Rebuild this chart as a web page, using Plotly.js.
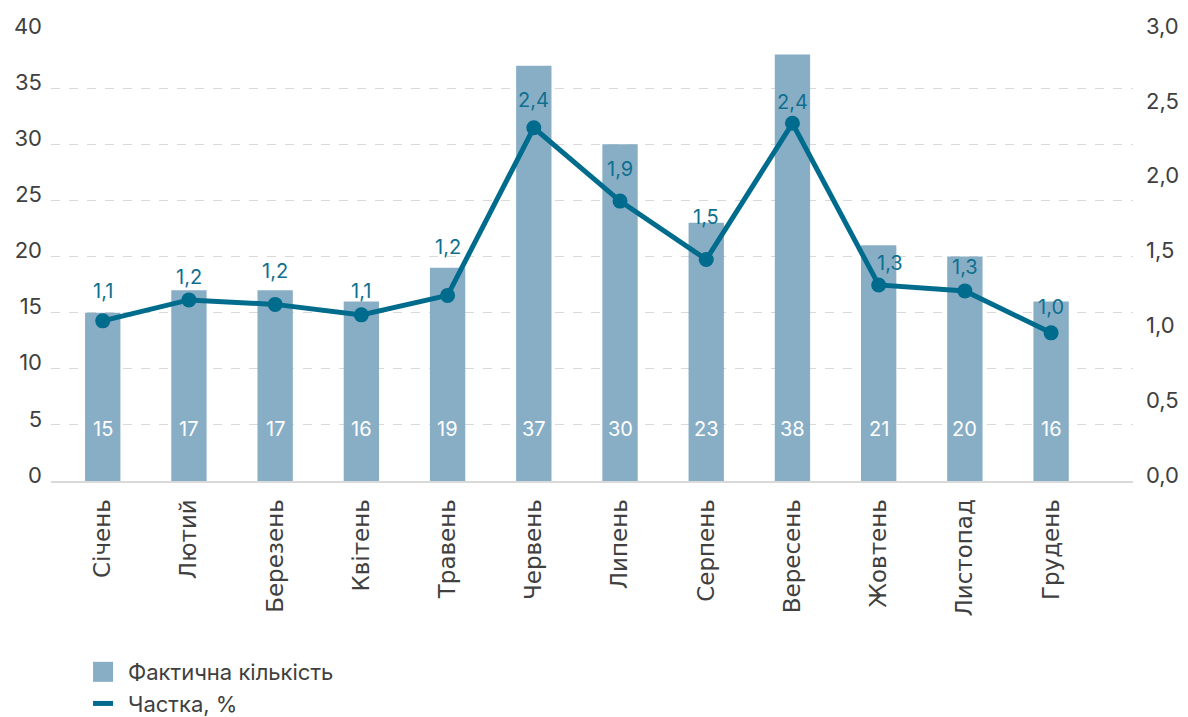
<!DOCTYPE html>
<html>
<head>
<meta charset="utf-8">
<script src="https://cdn.plot.ly/plotly-3.0.1.min.js"></script>
<style>
  html, body { margin: 0; padding: 0; background: #ffffff; }
  #chart { width: 1188px; height: 717px; }
</style>
</head>
<body>
<div id="chart"></div>
<script>
// Months of the year
const months = ['Січень', 'Лютий', 'Березень', 'Квітень', 'Травень', 'Червень',
                'Липень', 'Серпень', 'Вересень', 'Жовтень', 'Листопад', 'Грудень'];

// Actual count per month (left axis)
const actualCount = [15, 17, 17, 16, 19, 37, 30, 23, 38, 21, 20, 16];

// Share, % per month (right axis)
const sharePct = [1.07, 1.21, 1.18, 1.11, 1.24, 2.36, 1.87, 1.48, 2.39, 1.31, 1.27, 0.99];

// Series names
const barName = 'Фактична кількість';
const lineName = 'Частка, %';

// Label lift above each share point, in pixels
const labelLift = [30, 23, 33, 24, 48, 28, 32, 42, 21, 22, 24, 26];
const labelSlide = [0, 0, 0, 0, 0, 0, 0, 0, 0, 11, 0, 0];

const barColor = '#88aec6';
const lineColor = '#006c8d';
const textGrey = '#404040';
const numFont = 'Inter, "Open Sans", sans-serif';

const fmt = v => v.toFixed(1).replace('.', ',');

const bars = {
  type: 'bar',
  name: barName,
  x: months,
  y: actualCount,
  width: 0.41,
  marker: { color: barColor },
  hoverinfo: 'x+y'
};

const shareLine = {
  type: 'scatter',
  mode: 'lines',
  name: lineName,
  x: months,
  y: sharePct,
  yaxis: 'y2',
  line: { color: lineColor, width: 5 },
  hoverinfo: 'skip'
};

const sharePoints = {
  type: 'scatter',
  mode: 'markers',
  name: lineName,
  x: months,
  y: sharePct,
  yaxis: 'y2',
  showlegend: false,
  marker: { color: lineColor, size: 15 },
  hoverinfo: 'x+y'
};

const annotations = [];
months.forEach((m, i) => {
  annotations.push({
    x: m, y: 0, xref: 'x', yref: 'y',
    text: String(actualCount[i]),
    showarrow: false, yanchor: 'bottom', yshift: 38,
    font: { family: numFont, size: 20, color: '#ffffff' }
  });
  annotations.push({
    x: m, y: sharePct[i], xref: 'x', yref: 'y2',
    text: fmt(sharePct[i]),
    showarrow: false, yanchor: 'middle',
    yshift: labelLift[i], xshift: labelSlide[i],
    font: { family: numFont, size: 20, color: '#0e6f8e' }
  });
});

const layout = {
  width: 1188,
  height: 717,
  margin: { l: 51, r: 55, t: 32, b: 236, autoexpand: false },
  paper_bgcolor: '#ffffff',
  plot_bgcolor: '#ffffff',
  separators: ', ',
  showlegend: true,
  legend: {
    orientation: 'v',
    xref: 'container', yref: 'container',
    x: 0.0699, y: 0.092,
    xanchor: 'left', yanchor: 'top',
    font: { family: numFont, size: 22, color: textGrey }
  },
  xaxis: {
    type: 'category',
    range: [-0.6, 11.95],
    tickangle: -90,
    ticks: '',
    automargin: false,
    showgrid: false,
    showline: true,
    linecolor: '#d9d9d9',
    linewidth: 2,
    ticklabelstandoff: 7,
    tickfont: { family: '"DejaVu Sans", sans-serif', size: 23, color: textGrey }
  },
  yaxis: {
    range: [0, 40],
    dtick: 5,
    automargin: false,
    showgrid: true,
    gridcolor: '#d9d9d9',
    griddash: 'dash',
    gridwidth: 1,
    zeroline: false,
    ticks: '',
    ticklabelstandoff: 8,
    ticklabelshift: -6,
    tickfont: { family: numFont, size: 22, color: textGrey }
  },
  yaxis2: {
    overlaying: 'y',
    side: 'right',
    range: [0, 3],
    dtick: 0.5,
    tickformat: '.1f',
    automargin: false,
    showgrid: false,
    zeroline: false,
    ticks: '',
    ticklabelstandoff: 12,
    ticklabelshift: -6,
    tickfont: { family: numFont, size: 22, color: textGrey }
  },
  annotations: annotations
};

Plotly.newPlot('chart', [bars, shareLine, sharePoints], layout, { displayModeBar: false, staticPlot: true })
  .then(gd => {
    // Larger square swatch and a short thick dash in the legend
    gd.querySelectorAll('.legend .traces').forEach(tr => {
      const bar = tr.querySelector('.legendpoints path');
      if (bar && tr.textContent.indexOf(barName) >= 0) {
        bar.setAttribute('d', 'M10,10H-10V-10H10Z');
      }
      const ln = tr.querySelector('.legendlines path');
      if (ln) ln.setAttribute('d', 'M10,0h20');
      const txt = tr.querySelector('text.legendtext');
      if (txt) txt.setAttribute('x', String(parseFloat(txt.getAttribute('x') || '40') + 5));
    });
  });
</script>
</body>
</html>
